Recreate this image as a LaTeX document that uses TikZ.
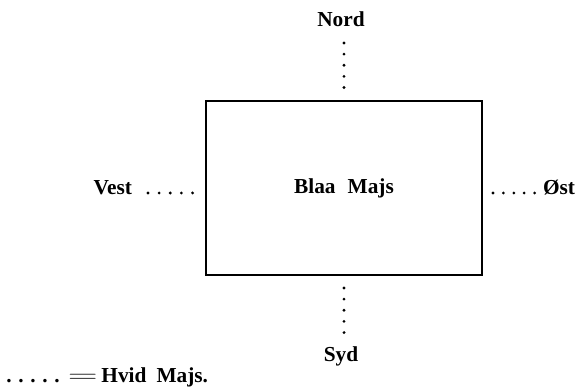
\documentclass[tikz,border=0pt]{standalone}
\usepackage{fontspec}
\setmainfont{Liberation Serif}
\begin{document}
\begin{tikzpicture}[x=0.75pt,y=-0.75pt,
  lbl/.style={font=\fontsize{16}{19}\selectfont\bfseries, inner sep=0pt, outer sep=0pt},
  fieldbox/.style={draw, line width=1.5pt, minimum width=207pt, minimum height=130.5pt, inner sep=0pt,
    outer sep=0pt, font=\fontsize{16}{19}\selectfont\bfseries},
  dotline/.style={line width=2.3pt, line cap=round, dash pattern=on 0pt off #1},
  dotline/.default=8.4pt]
\useasboundingbox (0,0) rectangle (586,391);

\node[fieldbox] (box) at (344,188) {Blaa\hspace{9pt}Majs};

\node[lbl, anchor=base] (nord) at (341,27) {Nord};
\node[lbl, anchor=base] (syd) at (341,362) {Syd};
\node[lbl, anchor=base east] (vest) at (132,195) {Vest};
\node[lbl, anchor=base west] (ost) at (543,195) {Øst};

\coordinate (vy) at ([yshift=1.5pt]vest.base east);
\coordinate (oy) at ([yshift=1.5pt]ost.base west);

\draw[dotline=8.35pt, shorten <=12pt, shorten >=9.75pt] (box.north |- nord.base) -- (box.north);
\draw[dotline=8.35pt, shorten <=9.75pt, shorten >=21.75pt] (box.south) -- (box.south |- syd.base);
\draw[dotline=8.35pt, shorten <=12pt, shorten >=9.75pt] (vy) -- (box.west |- vy);
\draw[dotline=7.8pt, shorten <=8.25pt, shorten >=6pt] (box.east |- oy) -- (oy);

\node[lbl, anchor=base west] (legend) at (6.3,383)
  {.\hspace{5pt}.\hspace{5pt}.\hspace{5pt}.\hspace{5pt}.\hspace{6.2pt}\scalebox{1.8}[1]{$=$}\hspace{2.8pt}Hvid\hspace{7.5pt}Majs.};
\end{tikzpicture}
\end{document}
